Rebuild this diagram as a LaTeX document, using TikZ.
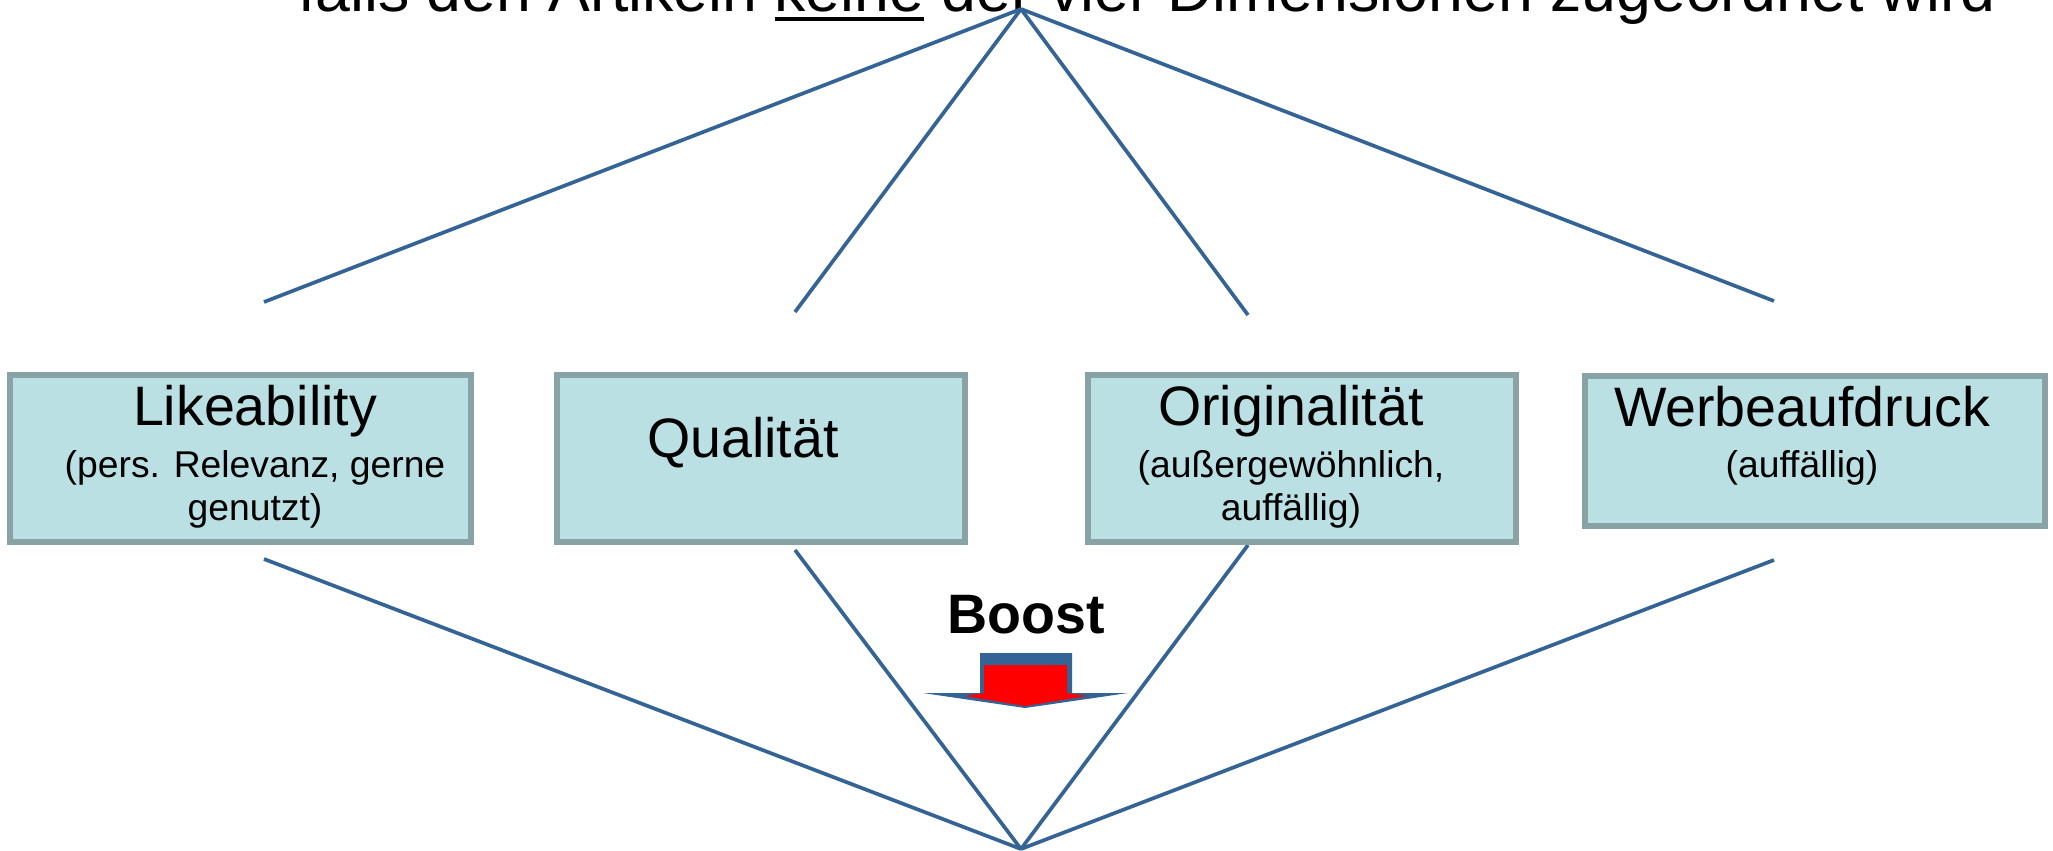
\documentclass[tikz,border=0pt]{standalone}
\usepackage{fontspec}
\setmainfont{Liberation Sans}
\usepackage{xcolor}
\usepackage{tikz}
\usetikzlibrary{positioning}
\definecolor{linienblau}{RGB}{52,99,149}
\definecolor{kastenfill}{RGB}{187,224,228}
\definecolor{kastenrand}{RGB}{136,162,165}
\tikzstyle{dimbox} = [draw=kastenrand, fill=kastenfill, line width=1.6pt,
rectangle, inner sep=0pt]
\tikzstyle{kopf} = [font=\fontsize{15.8}{18}\selectfont, inner sep=0pt, anchor=base]
\tikzstyle{zusatz} = [font=\fontsize{10.6}{12.2}\selectfont, inner sep=0pt,
align=center, anchor=north]
\tikzstyle{linie} = [draw=linienblau, line width=1.05pt]
\newcommand{\strich}[1]{\setbox0\hbox{#1}\rlap{\rule[-2.8pt]{\wd0}{1.15pt}}#1}

\begin{document}
\begin{tikzpicture}[x=0.01cm, y=0.01cm]
        \useasboundingbox (0,0) rectangle (2053,850);
        \clip (0,0) rectangle (2053,850);
        \node[kopf, font=\fontsize{17.8}{20}\selectfont] (titel) at (1147,839)
            {falls den Artikeln \strich{keine} der vier Dimensionen zugeordnet wird};

        \coordinate (oben) at (1021,841);
        \coordinate (unten) at (1021,1);
        \coordinate (o1) at (264,548);
        \coordinate (o2) at (795,538);
        \coordinate (o3) at (1248,535);
        \coordinate (o4) at (1774,549);
        \coordinate (u1) at (264,291);
        \coordinate (u2) at (795,300);
        \coordinate (u3) at (1248,305);
        \coordinate (u4) at (1774,290);

        \draw[linie] (oben) -- (o1);
        \draw[linie] (oben) -- (o2);
        \draw[linie] (oben) -- (o3);
        \draw[linie] (oben) -- (o4);
        \draw[linie] (u1) -- (unten);
        \draw[linie] (u2) -- (unten);
        \draw[linie] (u3) -- (unten);
        \draw[linie] (u4) -- (unten);

        \node[dimbox, minimum width=4.61cm, minimum height=1.67cm] (like) at (240.5,391.5) {};
        \node[dimbox, minimum width=4.08cm, minimum height=1.67cm] (qual) at (761,391.5) {};
        \node[dimbox, minimum width=4.28cm, minimum height=1.67cm] (orig) at (1302,391.5) {};
        \node[dimbox, minimum width=4.60cm, minimum height=1.50cm] (werb) at (1815,399) {};

        \node[kopf] (likeK) at (255,425) {Likeability};
        \node[zusatz] (likeZ) at (255,400) {(pers. Relevanz, gerne\\genutzt)};
        \node[kopf] (qualK) at (743,393) {Qualität};
        \node[kopf] (origK) at (1291,425) {Originalität};
        \node[zusatz] (origZ) at (1291,400) {(außergewöhnlich,\\auffällig)};
        \node[kopf] (werbK) at (1802,424) {Werbeaufdruck};
        \node[zusatz] (werbZ) at (1802,400) {(auffällig)};

        \node[kopf, font=\bfseries\fontsize{15.8}{18}\selectfont] (boost) at (1026,217) {Boost};
        \fill[linienblau] (980,197) -- (1072,197) -- (1072,157) -- (1128,157)
            -- (1025,142) -- (923,157) -- (980,157) -- cycle;
        \fill[red] (984,185) -- (1067,185) -- (1067,157) -- (1087,154)
            -- (1025,144) -- (965,154) -- (984,157) -- cycle;
    \end{tikzpicture}
\end{document}
